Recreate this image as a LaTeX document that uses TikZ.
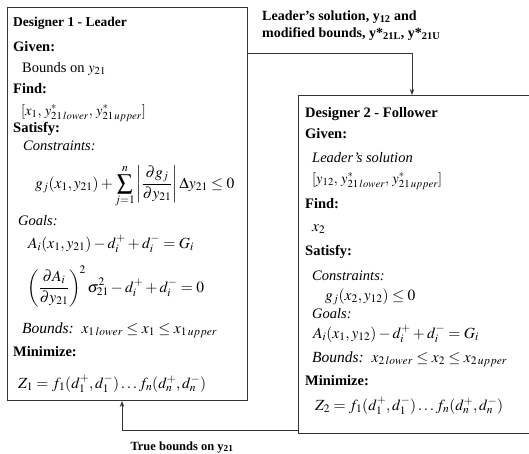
\documentclass[tikz,border=0pt]{standalone}
\usepackage{mathptmx}
\usepackage[no-math]{fontspec}
\setmainfont{Liberation Serif}
\usetikzlibrary{arrows.meta}
\tikzset{
  box/.style={draw=black!80, line width=1pt, rectangle, inner sep=0pt, anchor=north west},
  hd/.style={anchor=base west, inner sep=0pt, font=\bfseries\fontsize{14.5}{16}\selectfont},
  tx/.style={anchor=base west, inner sep=0pt, font=\fontsize{14.5}{16}\selectfont},
  mth/.style={anchor=base west, inner sep=0pt, font=\fontsize{15.5}{17}\selectfont},
  brk/.style={anchor=base west, inner sep=0pt, font=\fontsize{14.5}{16}\selectfont},
  lbl/.style={anchor=base west, inner sep=0pt, font=\bfseries\fontsize{14}{16}\selectfont},
  conn/.style={draw=black!80, line width=0.8pt, -{Stealth[length=6pt,width=4.5pt]}}
}
\begin{document}
\begin{tikzpicture}[x=1pt,y=-1pt]
\useasboundingbox (0,0) rectangle (529,453);
% boxes
\node[box, minimum width=240pt, minimum height=393pt] (d1) at (7,7) {};
\node[box, minimum width=245pt, minimum height=338pt] (d2) at (298,95) {};
% Designer 1 content
\node[hd, font=\bfseries\fontsize{13.5}{15}\selectfont] (h1) at (13,26) {Designer 1 - Leader};
\node[hd] (g1) at (13,51) {Given:};
\node[tx] (g1a) at (22,72) {Bounds on $y_{21}$};
\node[hd] (f1) at (13,93) {Find:};
\node[brk] (f1a) at (21,115) {$[x_1,\, y^{*}_{21\,lower},\, y^{*}_{21\,upper}]$};
\node[hd] (s1) at (13,132) {Satisfy:};
\node[tx] (c1) at (23,150) {\textit{Constraints:}};
\node[mth] (c1a) at (35,188) {$\displaystyle g_j(x_1,y_{21})+\sum_{j=1}^{n}\left|\frac{\partial g_j}{\partial y_{21}}\right|\Delta y_{21}\le 0$};
\node[tx] (o1) at (18,225) {\textit{Goals:}};
\node[mth] (o1a) at (28,248) {$A_i(x_1,y_{21})-d_i^{+}+d_i^{-}=G_i$};
\node[mth] (o1b) at (27,292) {$\displaystyle\left(\frac{\partial A_i}{\partial y_{21}}\right)^{\!2}\sigma_{21}^{2}-d_i^{+}+d_i^{-}=0$};
\node[mth] (b1) at (22,333) {\textit{Bounds:}\ \ $x_{1\,lower}\le x_1\le x_{1\,upper}$};
\node[hd] (m1) at (13,356) {Minimize:};
\node[mth] (z1) at (18,388) {$Z_1=f_1(d_1^{+},d_1^{-})\ldots f_n(d_n^{+},d_n^{-})$};
% Designer 2 content
\node[hd] (h2) at (305,117) {Designer 2 - Follower};
\node[hd] (g2) at (305,138) {Given:};
\node[tx] (g2a) at (312,162) {\textit{Leader's solution}};
\node[brk] (g2b) at (312,183) {$[y_{12},\, y^{*}_{21\,lower},\, y^{*}_{21\,upper}]$};
\node[hd] (f2) at (305,208) {Find:};
\node[mth] (f2a) at (312,231) {$x_2$};
\node[hd] (s2) at (305,255) {Satisfy:};
\node[tx] (c2) at (312,280) {\textit{Constraints:}};
\node[mth] (c2a) at (325,300) {$g_j(x_2,y_{12})\le 0$};
\node[tx] (o2) at (312,318) {\textit{Goals:}};
\node[mth] (o2a) at (313,338) {$A_i(x_1,y_{12})-d_i^{+}+d_i^{-}=G_i$};
\node[mth] (b2) at (312,362) {\textit{Bounds:}\ \ $x_{2\,lower}\le x_2\le x_{2\,upper}$};
\node[hd] (m2) at (305,385) {Minimize:};
\node[mth] (z2) at (315,410) {$Z_2=f_1(d_1^{+},d_1^{-})\ldots f_n(d_n^{+},d_n^{-})$};
% connector labels
\node[lbl] (l1) at (262,20) {Leader’s solution, y\textsubscript{12} and};
\node[lbl] (l2) at (262,37) {modified bounds, y*\textsubscript{21L}, y*\textsubscript{21U}};
\node[lbl, anchor=base, font=\bfseries\fontsize{12.5}{14}\selectfont] (l3) at (182,450) {True bounds on y\textsubscript{21}};
% connectors
\coordinate (ya) at (0,53);
\coordinate (xa) at (412,0);
\coordinate (yb) at (0,430);
\coordinate (xb) at (122,0);
\draw[conn] (d1.east |- ya) -| (d2.north -| xa);
\draw[conn] (d2.west |- yb) -| (d1.south -| xb);
\end{tikzpicture}
\end{document}
